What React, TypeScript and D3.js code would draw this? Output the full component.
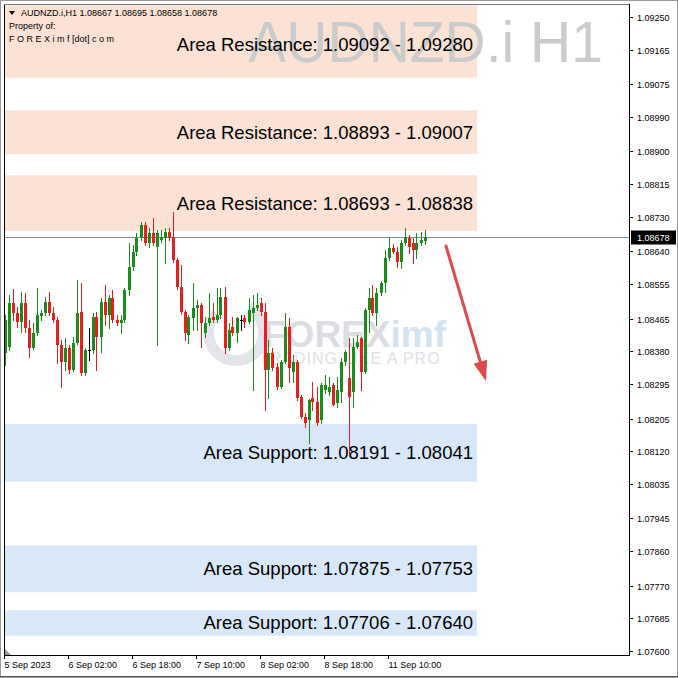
import React from 'react';
import * as d3 from 'd3';

const W = 678;
const H = 678;

// ---- data ----
const barOpen = [
  1.08376, 1.08392, 1.08506, 1.0848, 1.08457, 1.08506, 1.08441, 1.08389, 1.08428, 1.08473,
  1.0848, 1.08509, 1.0848, 1.08462, 1.08397, 1.08353, 1.08389, 1.08332, 1.08402, 1.08483,
  1.08324, 1.08384, 1.08384, 1.0847, 1.08418, 1.08509, 1.08475, 1.08519, 1.08462, 1.08454,
  1.08462, 1.0854, 1.086, 1.08639, 1.08675, 1.08709, 1.08662, 1.08688, 1.08652, 1.0867,
  1.08675, 1.08691, 1.08678, 1.08618, 1.08548, 1.08483, 1.08423, 1.08467, 1.08493, 1.08501,
  1.08428, 1.08454, 1.0847, 1.08462, 1.08475, 1.08522, 1.08389, 1.08444, 1.08428, 1.08462,
  1.08467, 1.08457, 1.0848, 1.08493, 1.08506, 1.08483, 1.08332, 1.08376, 1.0834, 1.08288,
  1.08353, 1.08444, 1.08327, 1.08353, 1.08262, 1.0821, 1.08202, 1.08259, 1.08249, 1.08202,
  1.0828, 1.08275, 1.08293, 1.08246, 1.08275, 1.08353, 1.08311, 1.08275, 1.08392, 1.08415,
  1.08327, 1.08488, 1.08519, 1.0848, 1.08532, 1.08558, 1.08623, 1.08649, 1.08639, 1.08613,
  1.08662, 1.08675, 1.08662, 1.08644, 1.08662, 1.08667,
];
const barHigh = [
  1.08475, 1.08527, 1.08543, 1.08496, 1.08535, 1.08532, 1.08462, 1.08454, 1.08545, 1.08488,
  1.08522, 1.08535, 1.08496, 1.0847, 1.0841, 1.08415, 1.08397, 1.08418, 1.08566, 1.08558,
  1.08389, 1.08441, 1.0848, 1.08483, 1.08519, 1.08553, 1.08527, 1.0854, 1.08475, 1.08475,
  1.08545, 1.08662, 1.08657, 1.08688, 1.08717, 1.08717, 1.08701, 1.08727, 1.08696, 1.08696,
  1.08701, 1.08701, 1.08743, 1.08623, 1.08605, 1.08488, 1.08475, 1.08558, 1.08514, 1.08506,
  1.0847, 1.08532, 1.08506, 1.08545, 1.08545, 1.08548, 1.08454, 1.0847, 1.0847, 1.08475,
  1.08475, 1.08519, 1.08527, 1.08532, 1.08519, 1.08506, 1.0841, 1.08389, 1.0835, 1.08358,
  1.0848, 1.08467, 1.08371, 1.08358, 1.08267, 1.0822, 1.08257, 1.08301, 1.08288, 1.08298,
  1.08319, 1.08314, 1.08298, 1.08314, 1.08363, 1.08384, 1.08415, 1.08415, 1.08423, 1.08418,
  1.08493, 1.08545, 1.08553, 1.08545, 1.08564, 1.08644, 1.08675, 1.0866, 1.08652, 1.0867,
  1.08701, 1.08683, 1.08675, 1.08688, 1.08691, 1.08695,
];
const barLow = [
  1.08345, 1.08384, 1.08462, 1.08444, 1.08431, 1.08431, 1.08366, 1.08387, 1.08423, 1.08462,
  1.08475, 1.08475, 1.08457, 1.0835, 1.08288, 1.08332, 1.08324, 1.0833, 1.084, 1.08319,
  1.08319, 1.08358, 1.08376, 1.08332, 1.08379, 1.08449, 1.08441, 1.08457, 1.08449, 1.08428,
  1.08457, 1.08527, 1.08592, 1.08631, 1.0867, 1.08657, 1.08652, 1.08657, 1.08397, 1.08665,
  1.0861, 1.0867, 1.08613, 1.08543, 1.08478, 1.0841, 1.08402, 1.08436, 1.08436, 1.08392,
  1.08418, 1.08449, 1.08457, 1.08457, 1.08467, 1.08376, 1.08384, 1.08423, 1.08405, 1.08436,
  1.08444, 1.08454, 1.0828, 1.08488, 1.08475, 1.08228, 1.08259, 1.08332, 1.08283, 1.08285,
  1.0835, 1.08301, 1.08301, 1.08254, 1.08207, 1.08184, 1.08142, 1.08228, 1.08189, 1.08194,
  1.08272, 1.08267, 1.08239, 1.08236, 1.08249, 1.08345, 1.08111, 1.08236, 1.08389, 1.0828,
  1.08324, 1.08431, 1.08475, 1.08449, 1.08527, 1.08535, 1.08618, 1.08636, 1.086, 1.08597,
  1.08657, 1.08636, 1.0861, 1.08623, 1.08657, 1.08658,
];
const barClose = [
  1.08462, 1.08506, 1.0848, 1.08457, 1.08506, 1.08441, 1.08389, 1.08428, 1.08475, 1.0848,
  1.08509, 1.0848, 1.08462, 1.08397, 1.08353, 1.08389, 1.08332, 1.08402, 1.0848, 1.08324,
  1.08384, 1.08384, 1.0847, 1.08418, 1.08509, 1.08475, 1.08519, 1.08462, 1.08454, 1.08462,
  1.0854, 1.086, 1.08639, 1.08675, 1.08709, 1.08662, 1.08688, 1.08662, 1.08688, 1.08678,
  1.08691, 1.08675, 1.08618, 1.08548, 1.08483, 1.08428, 1.0847, 1.08493, 1.08501, 1.08454,
  1.08454, 1.08467, 1.08462, 1.08475, 1.08522, 1.08389, 1.08436, 1.08428, 1.08467, 1.08462,
  1.08457, 1.08488, 1.08493, 1.08501, 1.08483, 1.08332, 1.08376, 1.08337, 1.08288, 1.08353,
  1.08444, 1.08337, 1.08353, 1.08259, 1.0821, 1.08194, 1.08254, 1.08249, 1.08194, 1.08293,
  1.08293, 1.08288, 1.08241, 1.0828, 1.08353, 1.08379, 1.08262, 1.08392, 1.08405, 1.08327,
  1.08488, 1.08519, 1.0848, 1.08532, 1.08558, 1.08623, 1.08649, 1.08639, 1.08613, 1.08662,
  1.08678, 1.08652, 1.08644, 1.08662, 1.0867, 1.08678,
];

const timeTickIndex = [0, 16, 32, 48, 64, 80, 96];
const timeTickLabels = [
  '5 Sep 2023', '6 Sep 02:00', '6 Sep 18:00', '7 Sep 10:00',
  '8 Sep 02:00', '8 Sep 18:00', '11 Sep 10:00',
];

const priceTicks = [
  1.0925, 1.09165, 1.09075, 1.0899, 1.089, 1.08815, 1.0873, 1.0864, 1.08555, 1.08465,
  1.0838, 1.08295, 1.08205, 1.0812, 1.08035, 1.07945, 1.0786, 1.0777, 1.07685, 1.076,
];

const zoneNames = [
  'Area Resistance', 'Area Resistance', 'Area Resistance',
  'Area Support', 'Area Support', 'Area Support',
];
const zoneFrom = [1.09092, 1.08893, 1.08693, 1.08191, 1.07875, 1.07706];
const zoneTo = [1.0928, 1.09007, 1.08838, 1.08041, 1.07753, 1.0764];
const zoneKind = ['res', 'res', 'res', 'sup', 'sup', 'sup'];

const symbol = 'AUDNZD.i,H1';
const lastPrice = 1.08678;

// ---- layout ----
const plotL = 4;
const plotR = 629;
const plotT = 4;
const plotB = 655;
const zoneRight = 477;

const FONT = '"Liberation Sans", Arial, sans-serif';
const GREEN = '#1d8a1d';
const RED = '#e3201c';

export default function App() {
  const y = d3.scaleLinear().domain([1.076, 1.0925]).range([651, 17]);
  const x = d3.scaleLinear().domain([0, 105]).range([5, 425]);
  const fmt = d3.format('.5f');

  const n = barOpen.length;
  const candles = d3.range(n).map((i) => {
    const o = barOpen[i];
    const c = barClose[i];
    const cx = Math.floor(x(i));
    const col = c > o ? GREEN : c < o ? RED : '#000';
    const yTop = Math.round(y(Math.max(o, c)));
    const yBot = Math.round(y(Math.min(o, c)));
    return (
      <g key={i}>
        <line x1={cx + 0.5} x2={cx + 0.5} y1={Math.round(y(barHigh[i]))} y2={Math.round(y(barLow[i])) + 1} stroke={col} strokeWidth={1} />
        {c === o ? (
          <line x1={cx - 1} x2={cx + 2} y1={yTop + 0.5} y2={yTop + 0.5} stroke={col} />
        ) : (
          <rect x={cx - 1} y={yTop} width={3} height={Math.max(1, yBot - yTop)} fill={col} />
        )}
      </g>
    );
  });

  const zones = zoneFrom.map((f, i) => {
    const t = zoneTo[i];
    const top = Math.max(plotT + 1, y(Math.max(f, t)));
    const bot = y(Math.min(f, t));
    return { top, bot, mid: y((f + t) / 2), i };
  });

  const yLast = Math.round(y(lastPrice)) + 0.5;

  // arrow
  const ax1 = 446, ay1 = 246, ax2 = 486, ay2 = 381;
  const ang = Math.atan2(ay2 - ay1, ax2 - ax1);
  const headLen = 20, headW = 7;
  const bx = ax2 - headLen * Math.cos(ang);
  const by = ay2 - headLen * Math.sin(ang);
  const px = -Math.sin(ang) * headW;
  const py = Math.cos(ang) * headW;

  return (
    <svg width={W} height={H} style={{ position: 'fixed', left: 0, top: 0, background: '#fff' }} fontFamily={FONT}>
      <rect x={0} y={0} width={W} height={H} fill="#fff" />
      <defs>
        <clipPath id="plot">
          <rect x={plotL} y={plotT} width={plotR - plotL} height={plotB - plotT} />
        </clipPath>
      </defs>

      <g clipPath="url(#plot)">
        {/* zones */}
        {zones.map((z) => (
          <rect key={z.i} x={plotL + 1} y={z.top} width={zoneRight - plotL - 1} height={z.bot - z.top}
            fill={zoneKind[z.i] === 'res' ? '#fbe2d5' : '#d8e8f8'} />
        ))}

        {/* watermark symbol */}
        <text x={603} y={62} textAnchor="end" fontSize={57} fill="#cbcbcb" fontFamily='"Liberation Sans", Arial, sans-serif'>
          AUDNZD.i H1
        </text>

        {/* logo watermark */}
        <path d={d3.arc()({ innerRadius: 22, outerRadius: 33, startAngle: Math.PI * 0.15, endAngle: Math.PI * 1.75 }) as string}
          transform="translate(236,333)" fill="#e4e5ea" />
        <text x={263} y={347} fontSize={37} fontWeight="bold" fill="#dcdde3">
          FOREX<tspan fill="#d3e3f0">imf</tspan>
        </text>
        <text x={259} y={364} fontSize={16} letterSpacing={1} fill="#e0e1e6">
          TRADING LIKE A PRO
        </text>

        {/* zone texts */}
        {zones.map((z) => (
          <text key={'t' + z.i} x={473} y={z.mid + (z.i === 0 ? 2.5 : 0)} dy="0.35em" textAnchor="end" fontSize={18.5} fill="#000">
            {`${zoneNames[z.i]}: ${fmt(zoneFrom[z.i])} - ${fmt(zoneTo[z.i])}`}
          </text>
        ))}

        {/* current price line */}
        <line x1={plotL} x2={plotR} y1={yLast} y2={yLast} stroke="#7d8a96" strokeWidth={1} />

        {/* candles */}
        {candles}

        {/* arrow */}
        <line x1={ax1} y1={ay1} x2={bx} y2={by} stroke="#e04a4a" strokeWidth={3} strokeLinecap="round" />
        <path d={`M${ax2},${ay2} L${bx + px},${by + py} L${bx - px},${by - py} Z`} fill="#e04a4a" />

        {/* small scroll triangle */}
        <path d={`M${plotL + 1},${plotB - 6} L${plotL + 1},${plotB} L${plotL + 7},${plotB} Z`} fill="#9a9a9a" />
      </g>

      {/* header */}
      <path d="M9,11 L15,11 L12,15 Z" fill="#000" />
      <text x={21} y={16} fontSize={9} fill="#000">
        {`${symbol}  ${fmt(barOpen[n - 1])} ${fmt(barHigh[n - 1])} ${fmt(barLow[n - 1])} ${fmt(barClose[n - 1])}`}
      </text>
      <text x={9} y={29} fontSize={9} fill="#000">Property of:</text>
      <text x={9} y={42} fontSize={9} fill="#000">F O R E X i m f [dot] c o m</text>

      {/* frame */}
      <rect x={0.5} y={0.5} width={W - 1} height={H - 1} fill="none" stroke="#9a9a9a" />
      <line x1={0} x2={W} y1={H - 1.5} y2={H - 1.5} stroke="#555" />
      <line x1={plotL + 0.5} x2={plotL + 0.5} y1={plotT} y2={plotB + 1} stroke="#000" />
      <line x1={plotL} x2={plotR + 1} y1={plotT + 0.5} y2={plotT + 0.5} stroke="#777" />
      <line x1={plotL} x2={plotR + 1} y1={plotB + 0.5} y2={plotB + 0.5} stroke="#000" />
      <line x1={plotR + 0.5} x2={plotR + 0.5} y1={plotT} y2={plotB + 1} stroke="#000" />

      {/* price axis */}
      {priceTicks.map((p) => {
        const ty = Math.round(y(p)) + 0.5;
        return (
          <g key={p}>
            <line x1={plotR} x2={plotR + 4} y1={ty} y2={ty} stroke="#000" />
            <text x={637} y={ty} dy="0.35em" fontSize={9} fill="#000">{fmt(p)}</text>
          </g>
        );
      })}
      <rect x={plotR + 2} y={yLast - 7} width={45} height={14} fill="#000" />
      <text x={637} y={yLast} dy="0.35em" fontSize={9} fill="#fff">{fmt(lastPrice)}</text>

      {/* time axis */}
      {timeTickIndex.map((idx, k) => {
        const tx = Math.floor(x(idx)) - 0.5;
        return (
          <g key={idx}>
            <line x1={tx} x2={tx} y1={plotB} y2={plotB + 4} stroke="#000" />
            <text x={tx} y={668} fontSize={9} fill="#000">{timeTickLabels[k]}</text>
          </g>
        );
      })}
    </svg>
  );
}
